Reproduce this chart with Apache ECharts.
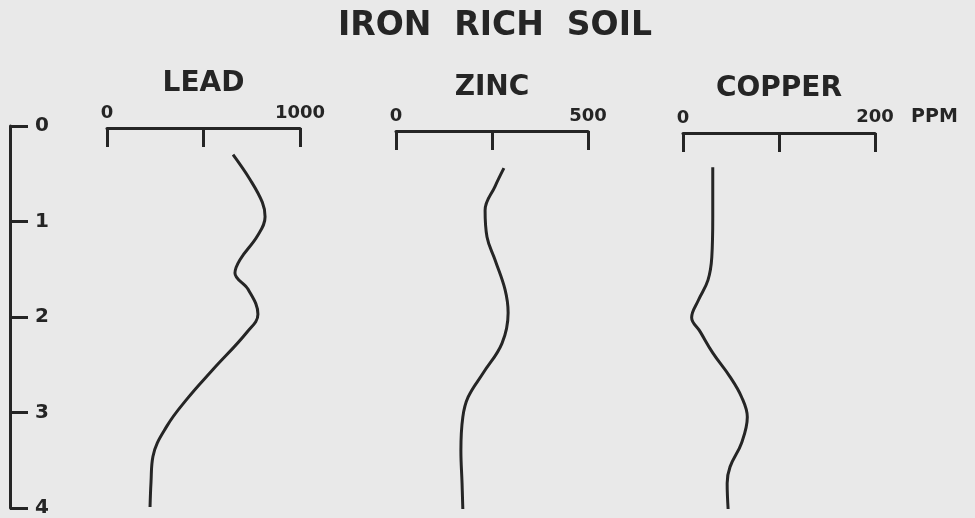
<!DOCTYPE html>
<html>
<head>
<meta charset="utf-8">
<title>Iron Rich Soil</title>
<script src="https://cdn.jsdelivr.net/npm/echarts@6/dist/echarts.min.js"></script>
<style>
  html, body { margin: 0; padding: 0; background: #e9e9e9; }
  #chart { width: 975px; height: 518px; }
</style>
</head>
<body>
<div id="chart"></div>
<script>
var leadDepth = [0.30, 0.56, 0.80, 0.95, 1.15, 1.40, 1.54, 1.71, 1.97, 2.16, 2.55, 2.86, 3.14, 3.46, 3.73, 3.99]
var leadPpm = [653, 741, 805, 819, 780, 689, 663, 731, 782, 725, 549, 414, 311, 238, 228, 223]

var zincDepth = [0.44, 0.63, 0.88, 1.16, 1.40, 1.71, 1.95, 2.27, 2.58, 2.83, 3.04, 3.39, 3.73, 4.0]
var zincPpm = [281, 258, 232, 237, 258, 284, 292, 276, 227, 188, 174, 169, 172, 174]

var copperDepth = [0.43, 0.95, 1.37, 1.61, 1.82, 2.0, 2.15, 2.37, 2.62, 2.83, 3.04, 3.31, 3.56, 3.73, 4.0]
var copperPpm = [31, 31, 30, 26, 16, 9, 18, 31, 49, 61, 67, 61, 49, 46, 47]

var panelNames = ['LEAD', 'ZINC', 'COPPER']
var panelMax = [1000, 500, 200]
var depthTicks = [0, 1, 2, 3, 4]

var ink = '#252525'
var font = 'DejaVu Sans'

function pairs(xs, ys) {
  return xs.map(function (x, i) { return [x, ys[i]] })
}

var grids = [
  { left: 107, width: 193, top: 126, height: 383 },
  { left: 396, width: 192, top: 126, height: 383 },
  { left: 683, width: 192, top: 126, height: 383 }
]
// hand drawn scales sit at slightly different heights
var axisOffsets = [-2, -5, -7]
var nameGaps = [30, 24, 26]

var xAxes = panelNames.map(function (name, i) {
  var max = panelMax[i]
  return {
    gridIndex: i,
    type: 'value',
    position: 'top',
    min: 0,
    max: max,
    interval: max / 2,
    offset: axisOffsets[i],
    name: name,
    nameLocation: 'middle',
    nameGap: nameGaps[i],
    nameTextStyle: { color: ink, fontFamily: font, fontWeight: 'bold', fontSize: 28 },
    axisLine: { show: true, onZero: false, lineStyle: { color: ink, width: 3 } },
    axisTick: { show: true, inside: true, length: 19, lineStyle: { color: ink, width: 3 } },
    splitLine: { show: false },
    axisLabel: {
      margin: 6,
      color: ink,
      fontFamily: font,
      fontWeight: 'bold',
      fontSize: 18,
      formatter: function (v) {
        if (v === 0) return '0'
        if (v === max) return i === 2 ? '{pad|}{n|' + v + '}{u|PPM}' : String(v)
        return ''
      },
      rich: {
        pad: { width: 64 },
        n: { color: ink, fontFamily: font, fontWeight: 'bold', fontSize: 18 },
        u: { width: 64, align: 'right', color: ink, fontFamily: font, fontWeight: 'bold', fontSize: 19 }
      }
    }
  }
})

var yAxes = [0, 1, 2].map(function (i) {
  var y = {
    gridIndex: i,
    type: 'value',
    inverse: true,
    min: 0,
    max: 4,
    interval: 1,
    show: i === 0,
    splitLine: { show: false }
  }
  if (i === 0) {
    y.position = 'left'
    y.offset = 97
    y.axisLine = { show: true, onZero: false, lineStyle: { color: ink, width: 3 } }
    y.axisTick = { show: true, inside: true, length: 18, lineStyle: { color: ink, width: 3 } }
    y.axisLabel = {
      inside: true,
      margin: 25,
      color: ink,
      fontFamily: font,
      fontWeight: 'bold',
      fontSize: 20,
      formatter: function (v) { return depthTicks.indexOf(v) >= 0 ? String(v) : '' }
    }
  }
  return y
})

var lineStyle = { color: ink, width: 3 }

var chart = echarts.init(document.getElementById('chart'))
chart.setOption({
  backgroundColor: '#e9e9e9',
  animation: false,
  title: {
    text: 'IRON  RICH  SOIL',
    left: 490,
    textAlign: 'center',
    top: 5,
    textStyle: { color: ink, fontFamily: font, fontWeight: 'bold', fontSize: 33 }
  },
  grid: grids,
  xAxis: xAxes,
  yAxis: yAxes,
  series: [
    { type: 'line', xAxisIndex: 0, yAxisIndex: 0, smooth: 0.4, symbol: 'none', lineStyle: lineStyle, data: pairs(leadPpm, leadDepth) },
    { type: 'line', xAxisIndex: 1, yAxisIndex: 1, smooth: 0.4, symbol: 'none', lineStyle: lineStyle, data: pairs(zincPpm, zincDepth) },
    { type: 'line', xAxisIndex: 2, yAxisIndex: 2, smooth: 0.4, symbol: 'none', lineStyle: lineStyle, data: pairs(copperPpm, copperDepth) }
  ]
})
</script>
</body>
</html>
